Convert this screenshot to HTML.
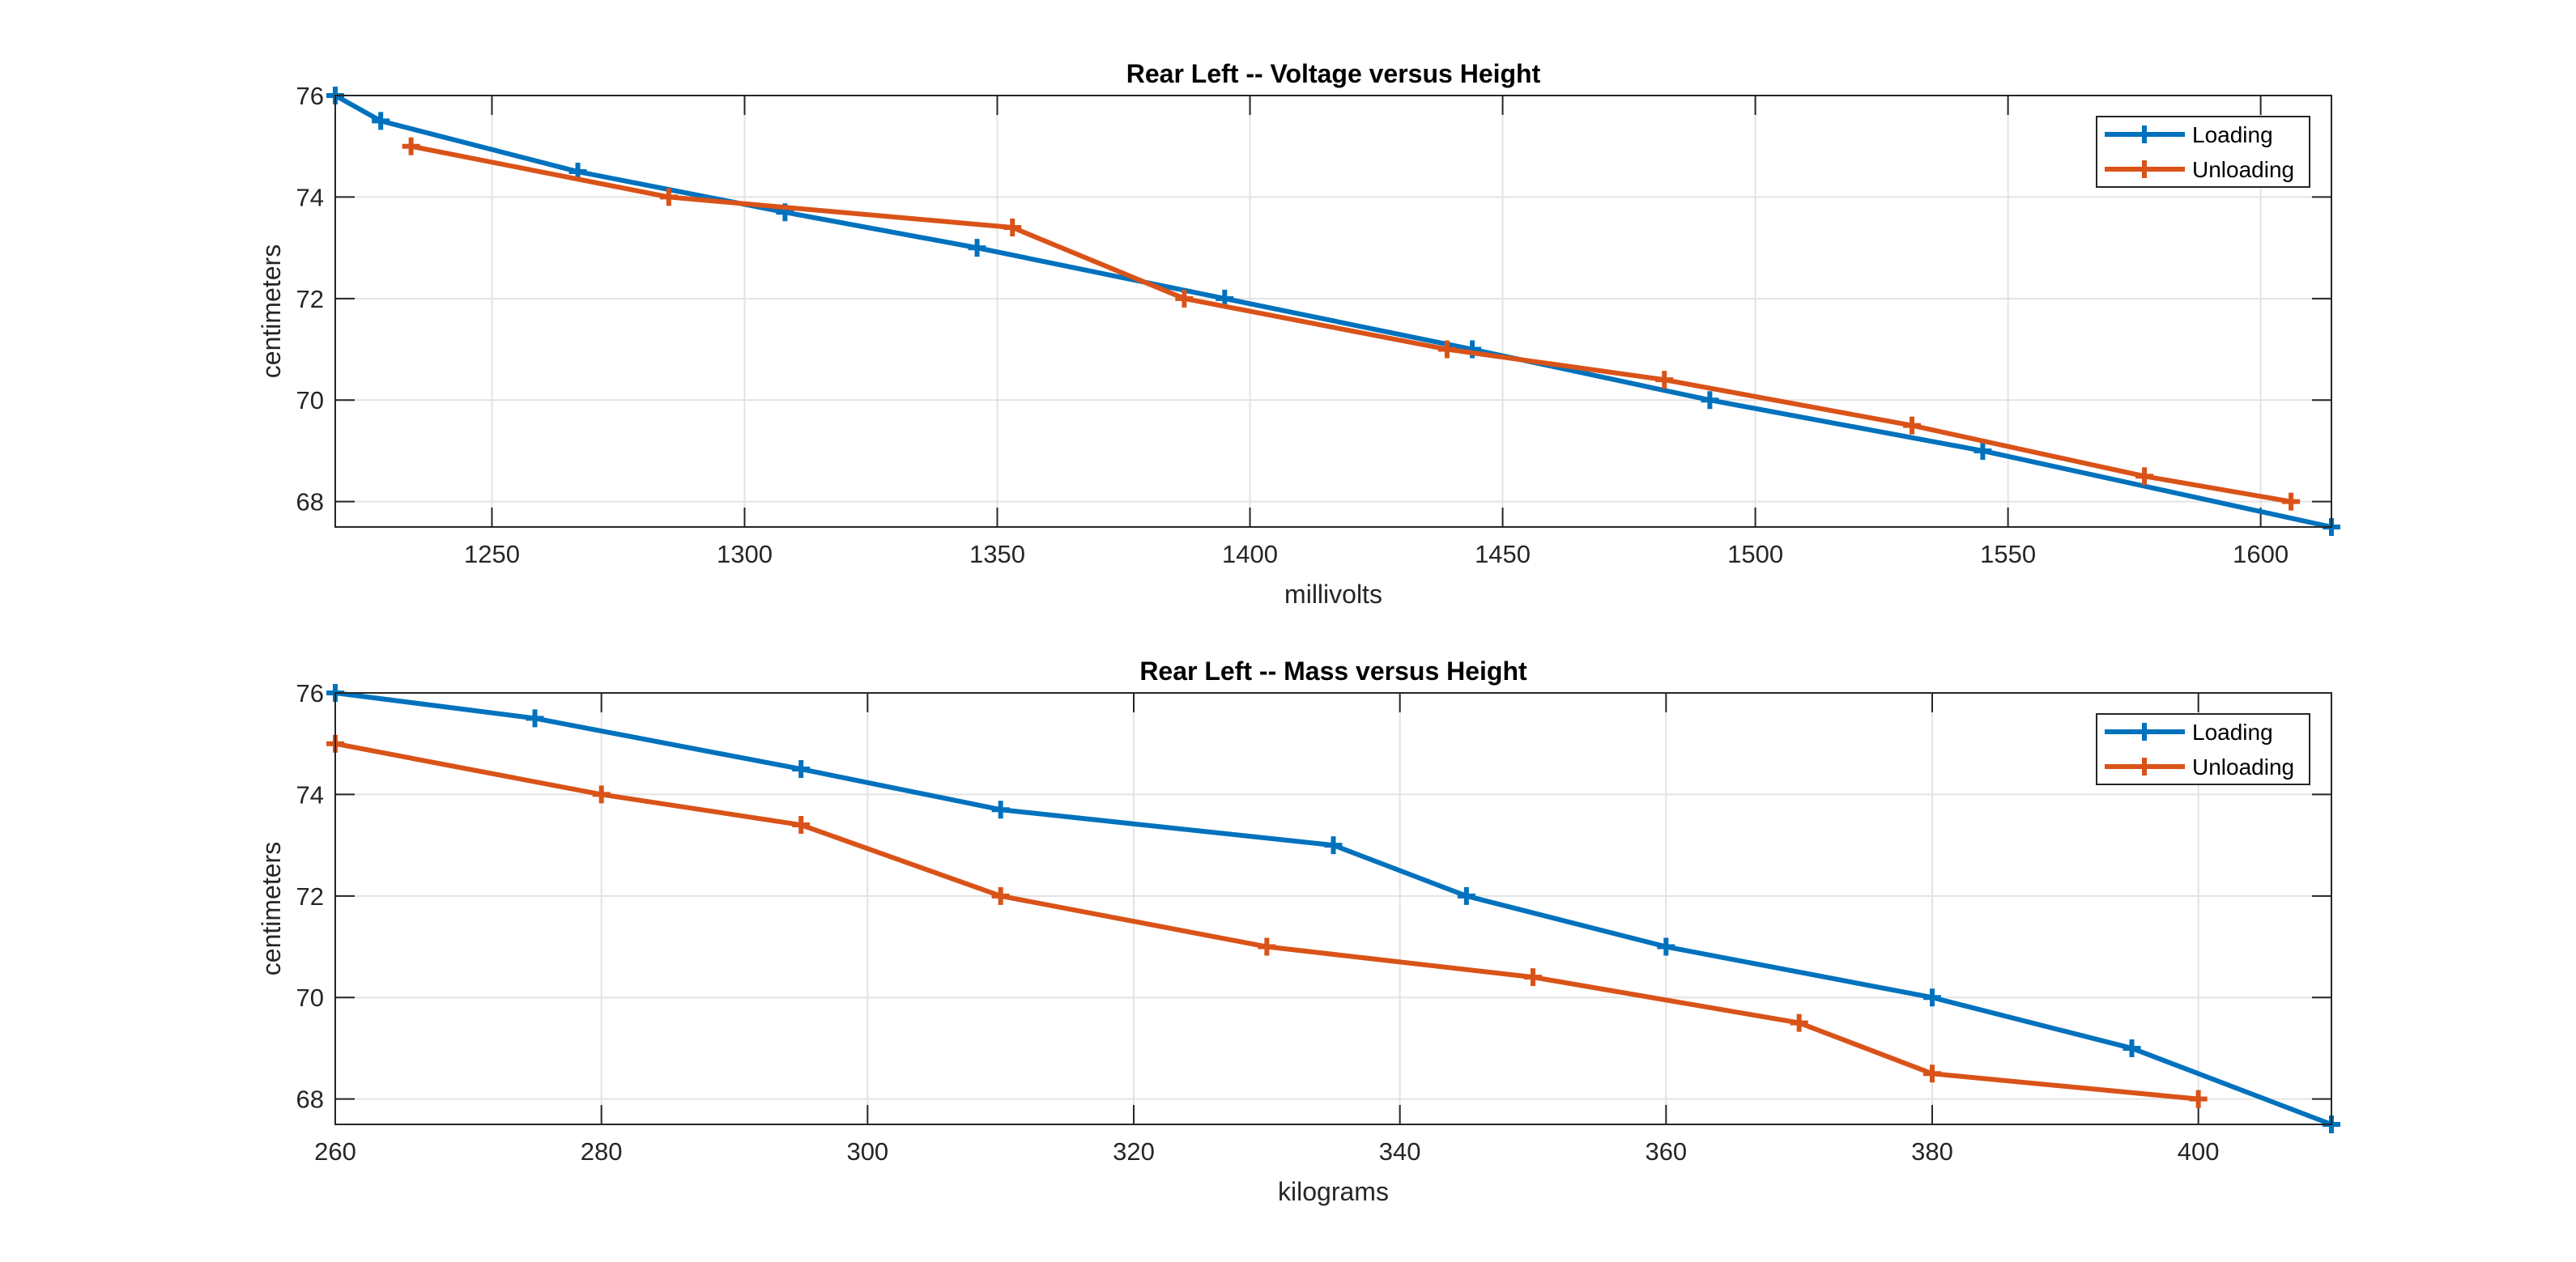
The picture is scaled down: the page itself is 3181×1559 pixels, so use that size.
<!DOCTYPE html>
<html><head><meta charset="utf-8"><style>
html,body{margin:0;padding:0;background:#fff;}
svg{display:block;font-family:"Liberation Sans",Arial,sans-serif;}
</style></head><body>
<svg id="fig" width="3181" height="1559" viewBox="0 0 3181 1559" xmlns="http://www.w3.org/2000/svg"></svg>
<script>
// Top chart data (voltage vs height)
const topLoadX = [1219,1228,1267,1308,1346,1395,1444,1491,1545,1614];
const topLoadY = [76,75.5,74.5,73.7,73,72,71,70,69,67.5];
const topUnloadX = [1234,1285,1353,1387,1439,1482,1531,1577,1606];
const topUnloadY = [75,74,73.4,72,71,70.4,69.5,68.5,68];
const topXTicks = [1250,1300,1350,1400,1450,1500,1550,1600];
// Bottom chart data (mass vs height)
const botLoadX = [260,275,295,310,335,345,360,380,395,410];
const botLoadY = [76,75.5,74.5,73.7,73,72,71,70,69,67.5];
const botUnloadX = [260,280,295,310,330,350,370,380,400];
const botUnloadY = [75,74,73.4,72,71,70.4,69.5,68.5,68];
const botXTicks = [260,280,300,320,340,360,380,400];
const yTicks = [68,70,72,74,76];

const NS='http://www.w3.org/2000/svg';
const svg=document.getElementById('fig');
function mk(tag,attrs,parent,text){const e=document.createElementNS(NS,tag);for(const k in attrs)e.setAttribute(k,attrs[k]);if(text!==undefined)e.textContent=text;(parent||svg).appendChild(e);return e;}

function panel(cfg){
  const g=mk('g',{});
  
  
  const L=414,R=2879,T=cfg.top,B=cfg.top+533;
  const sx=v=>L+(v-cfg.xmin)/(cfg.xmax-cfg.xmin)*(R-L);
  const sy=v=>B-(v-67.5)/(76-67.5)*(B-T);
  // grid
  cfg.xt.forEach(t=>{const x=sx(t);
    const gl=mk('line',{x1:x,x2:x,y1:T,y2:B,stroke:'#e3e3e3','stroke-width':2},g);
    
    });
  yTicks.forEach(t=>{const y=sy(t);
    const gl=mk('line',{x1:L,x2:R,y1:y,y2:y,stroke:'#e3e3e3','stroke-width':2},g);
    
    });
  // ticks
  cfg.xt.forEach(t=>{const x=sx(t);
    mk('line',{x1:x,x2:x,y1:B,y2:B-24,stroke:'#262626','stroke-width':2},g);
    mk('line',{x1:x,x2:x,y1:T,y2:T+24,stroke:'#262626','stroke-width':2},g);
    const tl=mk('text',{x:x,y:B+44,'font-size':31,'text-anchor':'middle',fill:'#262626'},g,String(t));
    
    });
  yTicks.forEach(t=>{const y=sy(t);
    mk('line',{x1:L,x2:L+24,y1:y,y2:y,stroke:'#262626','stroke-width':2},g);
    mk('line',{x1:R,x2:R-24,y1:y,y2:y,stroke:'#262626','stroke-width':2},g);
    const tl=mk('text',{x:L-14,y:y+11,'font-size':31,'text-anchor':'end',fill:'#262626'},g,String(t));
    
    });
  // series
  const series=[[cfg.lx,cfg.ly,'#0072BD','loading-line'],[cfg.ux,cfg.uy,'#D95319','unloading-line']];
  series.forEach(([xs,ys,c,n])=>{
    const pts=xs.map((v,i)=>sx(v)+','+sy(ys[i])).join(' ');
    const pl=mk('polyline',{points:pts,fill:'none',stroke:c,'stroke-width':6,'stroke-linejoin':'round'},g);
    
    
    xs.forEach((v,i)=>{const x=sx(v),y=sy(ys[i]);
      const m=mk('path',{d:`M${x-11},${y}H${x+11}M${x},${y-11}V${y+11}`,stroke:c,'stroke-width':6},g);
      
      });
  });
  // box
  const bx=mk('rect',{x:L,y:T,width:R-L,height:B-T,fill:'none',stroke:'#262626','stroke-width':2},g);
  
  
  // title & labels
  const tt=mk('text',{x:(L+R)/2,y:T-16,'font-size':32,'font-weight':'bold','text-anchor':'middle',fill:'#000'},g,cfg.title);
  
  
  const xl=mk('text',{x:(L+R)/2,y:B+94,'font-size':32,'text-anchor':'middle',fill:'#262626'},g,cfg.xlabel);
  
  
  const yl=mk('text',{x:0,y:0,'font-size':32,'text-anchor':'middle',fill:'#262626',transform:`translate(346,${(T+B)/2}) rotate(-90)`},g,'centimeters');
  
  
  // legend
  const lg=mk('g',{},g);
  
  
  mk('rect',{x:2589,y:T+26,width:263,height:87,fill:'#fff',stroke:'#262626','stroke-width':2},lg);
  [['Loading','#0072BD',T+48],['Unloading','#D95319',T+91]].forEach(([lab,c,y])=>{
    const e=mk('g',{},lg);
    
    
    mk('line',{x1:2599,x2:2698,y1:y,y2:y,stroke:c,'stroke-width':6},e);
    mk('path',{d:`M2637,${y}H2659M2648,${y-11}V${y+11}`,stroke:c,'stroke-width':6},e);
    mk('text',{x:2707,y:y+10,'font-size':28,fill:'#000'},e,lab);
  });
}
panel({name:'voltage-chart',top:118,xmin:1219,xmax:1614,xt:topXTicks,lx:topLoadX,ly:topLoadY,ux:topUnloadX,uy:topUnloadY,title:'Rear Left -- Voltage versus Height',xlabel:'millivolts'});
panel({name:'mass-chart',top:856,xmin:260,xmax:410,xt:botXTicks,lx:botLoadX,ly:botLoadY,ux:botUnloadX,uy:botUnloadY,title:'Rear Left -- Mass versus Height',xlabel:'kilograms'});
</script>
</body></html>
